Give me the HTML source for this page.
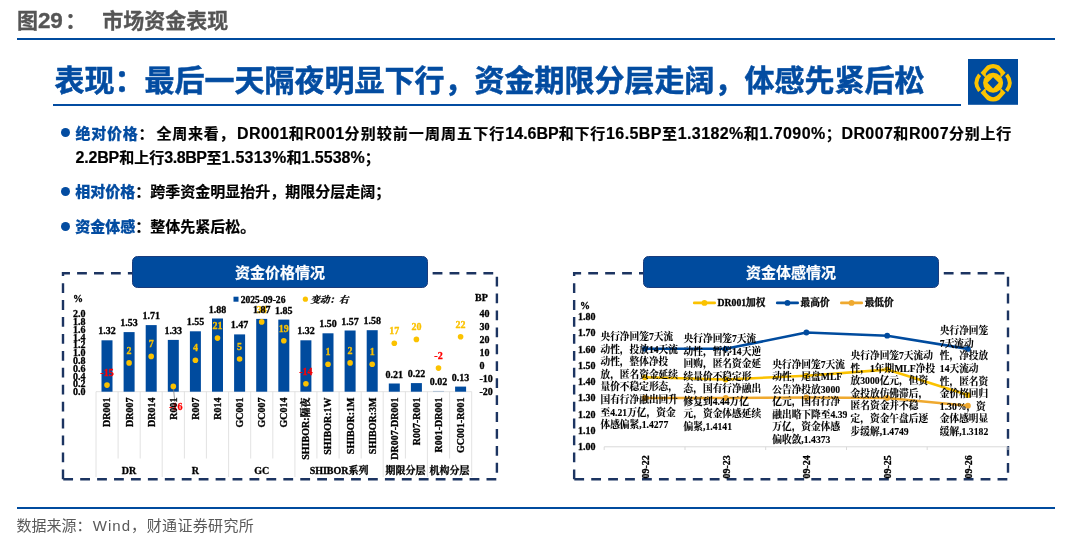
<!DOCTYPE html>
<html lang="zh"><head><meta charset="utf-8"><title>市场资金表现</title>
<style>
html,body{margin:0;padding:0;background:#fff;}
body{width:1080px;height:537px;position:relative;overflow:hidden;font-family:"Liberation Sans","Noto Sans CJK SC",sans-serif;}
.abs{position:absolute;white-space:nowrap;}
.hdr{left:17px;top:6.4px;font-size:21px;line-height:30px;font-weight:bold;color:#555;-webkit-text-stroke:0.3px #555;}
.hline{left:17px;width:1038px;height:2px;background:#004B9E;}
.title{left:54.6px;top:59.9px;font-size:30px;line-height:42px;font-weight:bold;color:#034CA1;-webkit-text-stroke:0.5px #034CA1;}
.tline{left:52.5px;top:103.5px;width:908.5px;height:2.7px;background:#034CA1;}
.bl{font-size:15px;line-height:24px;font-weight:bold;color:#000;-webkit-text-stroke:0.2px currentColor;}
.bl b{color:#034CA1;}
.l{letter-spacing:0.5px;}
#l1 .l{letter-spacing:0.42px;font-size:16px;line-height:20px;}
.lx{font-size:16px;line-height:20px;}
.pc{margin-right:2.2px;}
.pm{margin-right:1.7px;}
.dot{width:9px;height:9px;border-radius:50%;background:#034CA1;}
.pill{box-sizing:border-box;height:32.4px;padding-top:0.7px;width:296.7px;background:#004B9E;border:0.8px solid #1A3C7C;border-radius:5.5px;color:#fff;font-size:15px;font-weight:bold;line-height:30.2px;text-align:center;-webkit-text-stroke:0.2px #fff;}
.foot{left:16.5px;top:515.3px;font-size:15px;line-height:22px;color:#595959;}
svg text{font-family:"Liberation Serif","Noto Serif CJK SC",serif;font-weight:bold;}
</style></head><body>
<div class="abs hdr">图<span style="font-size:22.5px;line-height:20px;letter-spacing:-.2px">29</span><span style="margin-left:2.5px">：</span></div>
<div class="abs hdr" style="left:102.2px">市场资金表现</div>
<div class="abs hline" style="top:38px"></div>
<div class="abs title">表现：最后一天隔夜明显下行，资金期限分层走阔，体感先紧后松</div>
<div class="abs tline"></div>
<svg class="abs" style="left:967.8px;top:58.8px" width="50.7" height="45.8" viewBox="0 0 50.7 45.8">
<rect width="50.7" height="45.8" fill="#004B9E"/>
<path fill="#FBC300" d="M12.60 13.80 L19.10 6.60 Q25.10 3.40 31.10 6.60 L37.60 13.80 L33.00 18.40 L32.30 19.80 L32.40 14.50 Q25.10 4.20 17.80 14.50 L17.90 19.80 L17.20 18.40 Z"/>
<path fill="#FBC300" d="M12.60 33.80 L19.10 41.00 Q25.10 44.20 31.10 41.00 L37.60 33.80 L33.00 29.20 L32.30 27.80 L32.40 33.10 Q25.10 43.40 17.80 33.10 L17.90 27.80 L17.20 29.20 Z"/>
<g fill="none" stroke="#FBC300" stroke-width="3.8">
<path d="M11.6 15.7 Q5.1 23.8 11.6 31.9"/>
<path d="M38.6 15.7 Q45.1 23.8 38.6 31.9"/>
</g>
<circle cx="25.1" cy="23.8" r="10" fill="#FBC300"/>
<path d="M25.1 18.2 L30.7 23.8 L25.1 29.4 L19.5 23.8 Z" fill="#004B9E"/>
</svg>
<div class="abs dot" style="left:61.3px;top:128.4px"></div>
<div class="abs bl" id="l1" style="left:75.5px;top:122.1px;letter-spacing:0.75px"><b>绝对价格</b><span class="pc">：</span>全周来看<span class="pm">，</span><span class="l">DR001</span>和<span class="l">R001</span><span style="letter-spacing:1.08px">分别较前一周周五下行</span><span class="lx" style="letter-spacing:0px">14.6BP</span>和下行<span class="l">16.5BP</span>至<span class="l">1.3182%</span>和<span class="l">1.7090%</span>；<span class="l">DR007</span>和<span class="l">R007</span>分别上行</div>
<div class="abs bl" id="l2" style="left:75.5px;top:145.8px"><span class="lx" style="letter-spacing:-.17px">2.2BP</span>和上行<span class="lx" style="letter-spacing:-.41px">3.8BP</span>至<span class="lx" style="letter-spacing:.25px">1.5313%</span>和<span class="lx" style="letter-spacing:.0px">1.5538%</span>；</div>
<div class="abs dot" style="left:61.3px;top:186.9px"></div>
<div class="abs bl" id="l3" style="left:75.3px;top:180.1px"><b>相对价格</b>：跨季资金明显抬升，期限分层走阔；</div>
<div class="abs dot" style="left:61.3px;top:221.9px"></div>
<div class="abs bl" id="l4" style="left:75.3px;top:215.4px"><b>资金体感</b>：整体先紧后松。</div>

<svg class="abs" style="left:0;top:0" width="1080" height="537" viewBox="0 0 1080 537">
<path d="M63 479.2 V273.2 H496.9 V479.2 Z" fill="none" stroke="#1C3461" stroke-width="2.4" stroke-dasharray="9.8 7.13"/>
<path d="M574.15 479.2 V273.2 H1008.0 V479.2 Z" fill="none" stroke="#1C3461" stroke-width="2.4" stroke-dasharray="9.8 7.13"/>
<g stroke="#DADADA" stroke-width="0.8" fill="none">
<line x1="96.0" y1="391.7" x2="471.7" y2="391.7"/>
<line x1="96.0" y1="391.7" x2="96.0" y2="477"/>
<line x1="118.1" y1="391.7" x2="118.1" y2="458.5"/>
<line x1="140.2" y1="391.7" x2="140.2" y2="458.5"/>
<line x1="162.2" y1="391.7" x2="162.2" y2="477"/>
<line x1="184.4" y1="391.7" x2="184.4" y2="458.5"/>
<line x1="206.4" y1="391.7" x2="206.4" y2="458.5"/>
<line x1="228.6" y1="391.7" x2="228.6" y2="477"/>
<line x1="250.7" y1="391.7" x2="250.7" y2="458.5"/>
<line x1="272.8" y1="391.7" x2="272.8" y2="458.5"/>
<line x1="294.9" y1="391.7" x2="294.9" y2="477"/>
<line x1="316.9" y1="391.7" x2="316.9" y2="458.5"/>
<line x1="339.1" y1="391.7" x2="339.1" y2="458.5"/>
<line x1="361.2" y1="391.7" x2="361.2" y2="458.5"/>
<line x1="383.2" y1="391.7" x2="383.2" y2="477"/>
<line x1="405.4" y1="391.7" x2="405.4" y2="458.5"/>
<line x1="427.4" y1="391.7" x2="427.4" y2="477"/>
<line x1="449.6" y1="391.7" x2="449.6" y2="458.5"/>
<line x1="471.7" y1="391.7" x2="471.7" y2="477"/>
</g>
<g fill="#004B9E">
<rect x="101.5" y="340.3" width="11" height="51.4"/>
<rect x="123.6" y="332.1" width="11" height="59.6"/>
<rect x="145.7" y="325.1" width="11" height="66.6"/>
<rect x="167.8" y="339.9" width="11" height="51.8"/>
<rect x="189.9" y="331.3" width="11" height="60.4"/>
<rect x="212.0" y="318.5" width="11" height="73.2"/>
<rect x="234.1" y="334.4" width="11" height="57.3"/>
<rect x="256.2" y="318.9" width="11" height="72.8"/>
<rect x="278.3" y="319.6" width="11" height="72.1"/>
<rect x="300.4" y="340.3" width="11" height="51.4"/>
<rect x="322.5" y="333.3" width="11" height="58.4"/>
<rect x="344.6" y="330.5" width="11" height="61.2"/>
<rect x="366.7" y="330.2" width="11" height="61.5"/>
<rect x="388.8" y="383.5" width="11" height="8.2"/>
<rect x="410.9" y="383.1" width="11" height="8.6"/>
<rect x="433.0" y="390.9" width="11" height="0.8" fill-opacity="0.3"/>
<rect x="455.1" y="386.6" width="11" height="5.1"/>
</g>
<line x1="173.3" y1="386.4" x2="174.8" y2="402" stroke="#7F7F7F" stroke-width="0.8"/>
<g fill="#FBC200">
<circle cx="107.0" cy="385.1" r="2.8"/>
<circle cx="129.1" cy="362.9" r="2.8"/>
<circle cx="151.2" cy="356.4" r="2.8"/>
<circle cx="173.3" cy="386.4" r="2.8"/>
<circle cx="195.4" cy="360.3" r="2.8"/>
<circle cx="217.5" cy="338.1" r="2.8"/>
<circle cx="239.6" cy="359.0" r="2.8"/>
<circle cx="261.7" cy="321.9" r="2.8"/>
<circle cx="283.8" cy="340.7" r="2.8"/>
<circle cx="305.9" cy="383.8" r="2.8"/>
<circle cx="328.0" cy="364.2" r="2.8"/>
<circle cx="350.1" cy="362.9" r="2.8"/>
<circle cx="372.2" cy="364.2" r="2.8"/>
<circle cx="394.3" cy="343.3" r="2.8"/>
<circle cx="416.4" cy="339.4" r="2.8"/>
<circle cx="438.5" cy="368.1" r="2.8"/>
<circle cx="460.6" cy="336.8" r="2.8"/>
</g>
<g font-size="10" text-anchor="middle">
<text x="107.0" y="376.1" fill="#FF0000" stroke="#FF0000" stroke-width="0.3">-15</text>
<text x="129.1" y="353.9" fill="#FBC200" stroke="#FBC200" stroke-width="0.3">2</text>
<text x="151.2" y="347.4" fill="#FBC200" stroke="#FBC200" stroke-width="0.3">7</text>
<text x="175.8" y="409.5" fill="#FF0000" stroke="#FF0000" stroke-width="0.3">-16</text>
<text x="195.4" y="351.3" fill="#FBC200" stroke="#FBC200" stroke-width="0.3">4</text>
<text x="217.5" y="329.1" fill="#FBC200" stroke="#FBC200" stroke-width="0.3">21</text>
<text x="239.6" y="350.0" fill="#FBC200" stroke="#FBC200" stroke-width="0.3">5</text>
<text x="261.7" y="312.9" fill="#FBC200" stroke="#FBC200" stroke-width="0.3">34</text>
<text x="283.8" y="331.7" fill="#FBC200" stroke="#FBC200" stroke-width="0.3">19</text>
<text x="305.9" y="374.8" fill="#FF0000" stroke="#FF0000" stroke-width="0.3">-14</text>
<text x="328.0" y="355.2" fill="#FBC200" stroke="#FBC200" stroke-width="0.3">1</text>
<text x="350.1" y="353.9" fill="#FBC200" stroke="#FBC200" stroke-width="0.3">2</text>
<text x="372.2" y="355.2" fill="#FBC200" stroke="#FBC200" stroke-width="0.3">1</text>
<text x="394.3" y="334.3" fill="#FBC200" stroke="#FBC200" stroke-width="0.3">17</text>
<text x="416.4" y="330.4" fill="#FBC200" stroke="#FBC200" stroke-width="0.3">20</text>
<text x="438.5" y="359.1" fill="#FF0000" stroke="#FF0000" stroke-width="0.3">-2</text>
<text x="460.6" y="327.8" fill="#FBC200" stroke="#FBC200" stroke-width="0.3">22</text>
</g>
<g font-size="10" text-anchor="middle" fill="#000" stroke="#000" stroke-width="0.3">
<text x="107.0" y="334.3">1.32</text>
<text x="129.1" y="326.1">1.53</text>
<text x="151.2" y="319.1">1.71</text>
<text x="173.3" y="333.9">1.33</text>
<text x="195.4" y="325.3">1.55</text>
<text x="217.5" y="312.5">1.88</text>
<text x="239.6" y="328.4">1.47</text>
<text x="261.7" y="312.9">1.87</text>
<text x="283.8" y="313.6">1.85</text>
<text x="305.9" y="334.3">1.32</text>
<text x="328.0" y="327.3">1.50</text>
<text x="350.1" y="324.5">1.57</text>
<text x="372.2" y="324.2">1.58</text>
<text x="394.3" y="377.5">0.21</text>
<text x="416.4" y="377.1">0.22</text>
<text x="438.5" y="384.9">0.02</text>
<text x="460.6" y="380.6">0.13</text>
</g>
<g font-size="10" fill="#000" stroke="#000" stroke-width="0.3">
<text x="73" y="395.1">0.0</text>
<text x="73" y="387.3">0.2</text>
<text x="73" y="379.5">0.4</text>
<text x="73" y="371.7">0.6</text>
<text x="73" y="363.9">0.8</text>
<text x="73" y="356.1">1.0</text>
<text x="73" y="348.4">1.2</text>
<text x="73" y="340.6">1.4</text>
<text x="73" y="332.8">1.6</text>
<text x="73" y="325.0">1.8</text>
<text x="73" y="317.2">2.0</text>
<text x="73" y="301.5">%</text>
<text x="479.5" y="395.0">-20</text>
<text x="479.5" y="382.0">-10</text>
<text x="479.5" y="368.9">0</text>
<text x="479.5" y="355.9">10</text>
<text x="479.5" y="342.8">20</text>
<text x="479.5" y="329.8">30</text>
<text x="479.5" y="316.7">40</text>
<text x="475" y="300.7">BP</text>
</g>
<rect x="233.5" y="296.7" width="5" height="5" fill="#004B9E"/>
<text x="240.7" y="302.6" font-size="9.6" fill="#000" stroke="#000" stroke-width="0.3">2025-09-26</text>
<circle cx="305.4" cy="299.2" r="2.6" fill="#FBC200"/>
<text x="310.5" y="302.7" font-size="9.5" font-style="italic" fill="#000" stroke="#000" stroke-width="0.3">变动：右</text>
<g font-size="10" fill="#000" stroke="#000" stroke-width="0.3" text-anchor="end">
<text transform="translate(110.4,397.5) rotate(-90)">DR001</text>
<text transform="translate(132.5,397.5) rotate(-90)">DR007</text>
<text transform="translate(154.6,397.5) rotate(-90)">DR014</text>
<text transform="translate(176.7,397.5) rotate(-90)">R001</text>
<text transform="translate(198.8,397.5) rotate(-90)">R007</text>
<text transform="translate(220.9,397.5) rotate(-90)">R014</text>
<text transform="translate(243.0,397.5) rotate(-90)">GC001</text>
<text transform="translate(265.1,397.5) rotate(-90)">GC007</text>
<text transform="translate(287.2,397.5) rotate(-90)">GC014</text>
<text transform="translate(309.3,397.5) rotate(-90)">SHIBOR:隔夜</text>
<text transform="translate(331.4,397.5) rotate(-90)">SHIBOR:1W</text>
<text transform="translate(353.5,397.5) rotate(-90)">SHIBOR:1M</text>
<text transform="translate(375.6,397.5) rotate(-90)">SHIBOR:3M</text>
<text transform="translate(397.7,397.5) rotate(-90)">DR007-DR001</text>
<text transform="translate(419.8,397.5) rotate(-90)">R007-R001</text>
<text transform="translate(441.9,397.5) rotate(-90)">R001-DR001</text>
<text transform="translate(464.0,397.5) rotate(-90)">GC001-R001</text>
</g>
<g font-size="10" fill="#000" stroke="#000" stroke-width="0.3" text-anchor="middle">
<text x="129.1" y="474.2">DR</text>
<text x="195.4" y="474.2">R</text>
<text x="261.7" y="474.2">GC</text>
<text x="339.1" y="474.2">SHIBOR系列</text>
<text x="405.4" y="474.2">期限分层</text>
<text x="449.6" y="474.2">机构分层</text>
</g>
<g stroke="#D9D9D9" stroke-width="1">
<line x1="604.2" y1="446.8" x2="1007.5" y2="446.8"/>
<line x1="604.2" y1="446.8" x2="604.2" y2="450"/>
<line x1="685.0" y1="446.8" x2="685.0" y2="450"/>
<line x1="765.7" y1="446.8" x2="765.7" y2="450"/>
<line x1="846.5" y1="446.8" x2="846.5" y2="450"/>
<line x1="927.2" y1="446.8" x2="927.2" y2="450"/>
<line x1="1008.0" y1="446.8" x2="1008.0" y2="450"/>
</g>
<polyline points="644.9,348.8 725.7,348.8 806.4,332.5 887.2,335.7 967.9,348.9" fill="none" stroke="#004B9E" stroke-width="2.6" stroke-linejoin="round" stroke-linecap="round"/>
<circle cx="644.9" cy="348.8" r="2.9" fill="#004B9E"/>
<circle cx="725.7" cy="348.8" r="2.9" fill="#004B9E"/>
<circle cx="806.4" cy="332.5" r="2.9" fill="#004B9E"/>
<circle cx="887.2" cy="335.7" r="2.9" fill="#004B9E"/>
<circle cx="967.9" cy="348.9" r="2.9" fill="#004B9E"/>
<polyline points="644.9,377.3 725.7,379.5 806.4,375.7 887.2,369.6 967.9,395.1" fill="none" stroke="#FBC200" stroke-width="2.6" stroke-linejoin="round" stroke-linecap="round"/>
<circle cx="644.9" cy="377.3" r="2.9" fill="#FBC200"/>
<circle cx="725.7" cy="379.5" r="2.9" fill="#FBC200"/>
<circle cx="806.4" cy="375.7" r="2.9" fill="#FBC200"/>
<circle cx="887.2" cy="369.6" r="2.9" fill="#FBC200"/>
<circle cx="967.9" cy="395.1" r="2.9" fill="#FBC200"/>
<polyline points="644.9,398.0 725.7,398.0 806.4,397.5 887.2,398.0 967.9,405.7" fill="none" stroke="#EFA92F" stroke-width="2.6" stroke-linejoin="round" stroke-linecap="round"/>
<circle cx="644.9" cy="398.0" r="2.9" fill="#EFA92F"/>
<circle cx="725.7" cy="398.0" r="2.9" fill="#EFA92F"/>
<circle cx="806.4" cy="397.5" r="2.9" fill="#EFA92F"/>
<circle cx="887.2" cy="398.0" r="2.9" fill="#EFA92F"/>
<circle cx="967.9" cy="405.7" r="2.9" fill="#EFA92F"/>
<g font-size="9.7" fill="#000" stroke="#000" stroke-width="0.12">
<text x="600.5" y="340.2">央行净回笼7天流</text>
<text x="600.5" y="352.8">动性，投放14天流</text>
<text x="600.5" y="365.3">动性，整体净投</text>
<text x="600.5" y="377.9">放，匿名资金延续</text>
<text x="600.5" y="390.4">量价不稳定形态，</text>
<text x="600.5" y="402.9">国有行净融出回升</text>
<text x="600.5" y="415.5">至4.21万亿，资金</text>
<text x="600.5" y="428.1">体感偏紧,1.4277</text>
<text x="683.6" y="342.1">央行净回笼7天流</text>
<text x="683.6" y="354.7">动性，暂停14天逆</text>
<text x="683.6" y="367.2">回购，匿名资金延</text>
<text x="683.6" y="379.8">续量价不稳定形</text>
<text x="683.6" y="392.3">态，国有行净融出</text>
<text x="683.6" y="404.9">修复到4.44万亿</text>
<text x="683.6" y="417.4">元，资金体感延续</text>
<text x="683.6" y="430.0">偏紧,1.4141</text>
<text x="772.3" y="367.7">央行净回笼7天流</text>
<text x="772.3" y="380.2">动性，尾盘MLF</text>
<text x="772.3" y="392.8">公告净投放3000</text>
<text x="772.3" y="405.4">亿元，国有行净</text>
<text x="772.3" y="417.9">融出略下降至4.39</text>
<text x="772.3" y="430.4">万亿，资金体感</text>
<text x="772.3" y="443.0">偏收敛,1.4373</text>
<text x="850.6" y="359.2">央行净回笼7天流动</text>
<text x="850.6" y="371.8">性，1年期MLF净投</text>
<text x="850.6" y="384.3">放3000亿元，但资</text>
<text x="850.6" y="396.9">金投放仿佛滞后，</text>
<text x="850.6" y="409.4">匿名资金并不稳</text>
<text x="850.6" y="421.9">定，资金午盘后逐</text>
<text x="850.6" y="434.5">步缓解,1.4749</text>
<text x="939.8" y="334.3">央行净回笼</text>
<text x="939.8" y="346.9">7天流动</text>
<text x="939.8" y="359.4">性，净投放</text>
<text x="939.8" y="372.0">14天流动</text>
<text x="939.8" y="384.5">性，匿名资</text>
<text x="939.8" y="397.1">金价格回归</text>
<text x="939.8" y="409.6">1.30%，资</text>
<text x="939.8" y="422.2">金体感明显</text>
<text x="939.8" y="434.7">缓解,1.3182</text>
</g>
<g font-size="10" fill="#000" stroke="#000" stroke-width="0.3">
<text x="578" y="450.2">1.00</text>
<text x="578" y="433.9">1.10</text>
<text x="578" y="417.7">1.20</text>
<text x="578" y="401.4">1.30</text>
<text x="578" y="385.2">1.40</text>
<text x="578" y="368.9">1.50</text>
<text x="578" y="352.6">1.60</text>
<text x="578" y="336.4">1.70</text>
<text x="578" y="320.1">1.80</text>
<text x="580" y="308.7">%</text>
</g>
<g font-size="10" fill="#000" stroke="#000" stroke-width="0.3" text-anchor="end">
<text transform="translate(648.8,455.2) rotate(-90)">09-22</text>
<text transform="translate(729.6,455.2) rotate(-90)">09-23</text>
<text transform="translate(810.3,455.2) rotate(-90)">09-24</text>
<text transform="translate(891.1,455.2) rotate(-90)">09-25</text>
<text transform="translate(971.8,455.2) rotate(-90)">09-26</text>
</g>
<line x1="694.1999999999999" y1="302.9" x2="714.6999999999999" y2="302.9" stroke="#FBC200" stroke-width="2.6" stroke-linecap="round"/>
<circle cx="704.4499999999999" cy="302.9" r="2.9" fill="#FBC200"/>
<text x="717.6" y="306.3" font-size="9.7" fill="#000" stroke="#000" stroke-width="0.3">DR001加权</text>
<line x1="777.1999999999999" y1="302.9" x2="797.6999999999999" y2="302.9" stroke="#004B9E" stroke-width="2.6" stroke-linecap="round"/>
<circle cx="787.4499999999999" cy="302.9" r="2.9" fill="#004B9E"/>
<text x="800.6" y="306.3" font-size="9.7" fill="#000" stroke="#000" stroke-width="0.3">最高价</text>
<line x1="841.3" y1="302.9" x2="861.8" y2="302.9" stroke="#EFA92F" stroke-width="2.6" stroke-linecap="round"/>
<circle cx="851.55" cy="302.9" r="2.9" fill="#EFA92F"/>
<text x="864.7" y="306.3" font-size="9.7" fill="#000" stroke="#000" stroke-width="0.3">最低价</text>
</svg>
<div class="abs pill" style="left:131.6px;top:256.1px">资金价格情况</div>
<div class="abs pill" style="left:642.75px;top:256.1px">资金体感情况</div>
<div class="abs hline" style="top:507px;height:1.8px"></div>
<div class="abs foot" id="ft">数据来源：<span style="letter-spacing:1px;margin-left:1.3px">Wind</span>，<span style="margin-left:.7px;letter-spacing:.35px">财通证券研究所</span></div>
</body></html>
